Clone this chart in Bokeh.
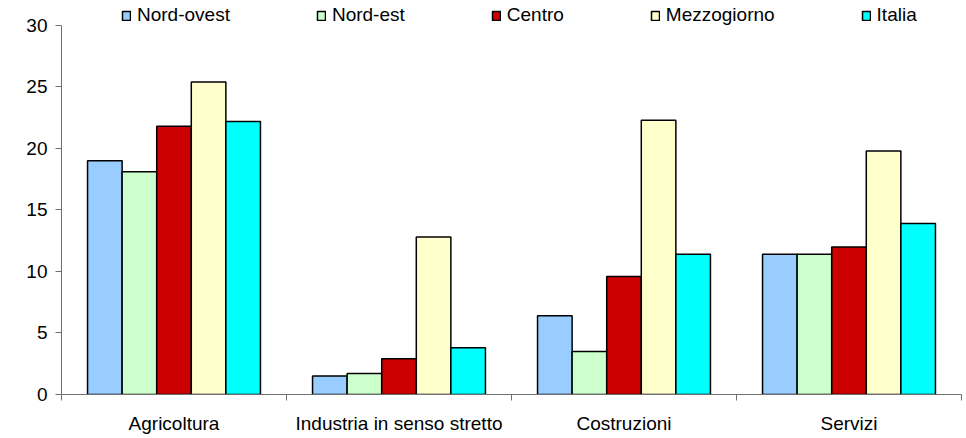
from bokeh.plotting import figure
from bokeh.models import FixedTicker, Range1d, Legend, LegendItem, ColumnDataSource
from bokeh.embed import file_html
from bokeh.resources import INLINE
import numpy as np

categories = ["Agricoltura", "Industria in senso stretto", "Costruzioni", "Servizi"]
series = ["Nord-ovest", "Nord-est", "Centro", "Mezzogiorno", "Italia"]
nord_ovest = [19.0, 1.5, 6.4, 11.4]
nord_est = [18.1, 1.7, 3.5, 11.4]
centro = [21.8, 2.9, 9.6, 12.0]
mezzogiorno = [25.4, 12.8, 22.3, 19.8]
italia = [22.2, 3.8, 11.4, 13.9]
y_ticks = [0, 5, 10, 15, 20, 25, 30]
y_max = 30

values = [nord_ovest, nord_est, centro, mezzogiorno, italia]
colors = ["#99CCFF", "#CCFFCC", "#CC0000", "#FFFFCC", "#00FFFF"]

FONT = "Liberation Sans"
FS = "19px"

# frame spans from y=3 to y=394 px; the value axis only covers 0..30 (bounds)
top_px, zero_px, thirty_px = 3, 394.3, 25
y_top = y_max * (zero_px - top_px) / (zero_px - thirty_px)

p = figure(width=964, height=436, output_backend="svg", toolbar_location=None,
           x_range=Range1d(0, len(categories)), y_range=Range1d(0, y_top),
           min_border_left=61, min_border_right=3, min_border_top=3, min_border_bottom=42)
p.outline_line_color = None
p.xgrid.grid_line_color = None
p.ygrid.grid_line_color = None

bar_w = 0.1537
n = len(series)
centers = np.arange(len(categories)) + 0.5
items = []
for j, (name, vals, col) in enumerate(zip(series, values, colors)):
    off = (j - (n - 1) / 2) * bar_w
    src = ColumnDataSource(dict(x=centers + off, top=vals))
    r = p.vbar(x="x", top="top", width=bar_w, bottom=0, source=src,
               fill_color=col, line_color="black", line_width=1.5)
    items.append(LegendItem(label=name, renderers=[r]))

legend = Legend(items=items, orientation="horizontal", location=(60, 368),
                margin=0, padding=0, spacing=86, glyph_width=10, glyph_height=11,
                label_height=11, label_standoff=6, border_line_color=None,
                background_fill_alpha=0, label_text_font=FONT, label_text_font_size=FS,
                label_text_color="black")
p.add_layout(legend, "center")

AX = "#707070"
# y axis
p.yaxis.ticker = FixedTicker(ticks=y_ticks)
p.yaxis.bounds = (0, y_max)
p.yaxis.axis_line_color = AX
p.yaxis.major_tick_line_color = AX
p.yaxis.major_tick_in = 0
p.yaxis.major_tick_out = 6
p.yaxis.minor_tick_line_color = None
p.yaxis.major_label_text_font = FONT
p.yaxis.major_label_text_font_size = FS
p.yaxis.major_label_text_color = "black"
p.yaxis.major_label_standoff = 8

# x axis
p.xaxis.ticker = FixedTicker(ticks=list(centers), minor_ticks=list(range(len(categories) + 1)))
p.xaxis.major_label_overrides = {float(c): cat for c, cat in zip(centers, categories)}
p.xaxis.axis_line_color = AX
p.xaxis.major_tick_line_color = None
p.xaxis.major_tick_in = 0
p.xaxis.major_tick_out = 6
p.xaxis.minor_tick_line_color = AX
p.xaxis.minor_tick_in = 0
p.xaxis.minor_tick_out = 6
p.xaxis.major_label_text_font = FONT
p.xaxis.major_label_text_font_size = FS
p.xaxis.major_label_text_color = "black"
p.xaxis.major_label_standoff = 12

open("out.html", "w").write(file_html(p, INLINE))
